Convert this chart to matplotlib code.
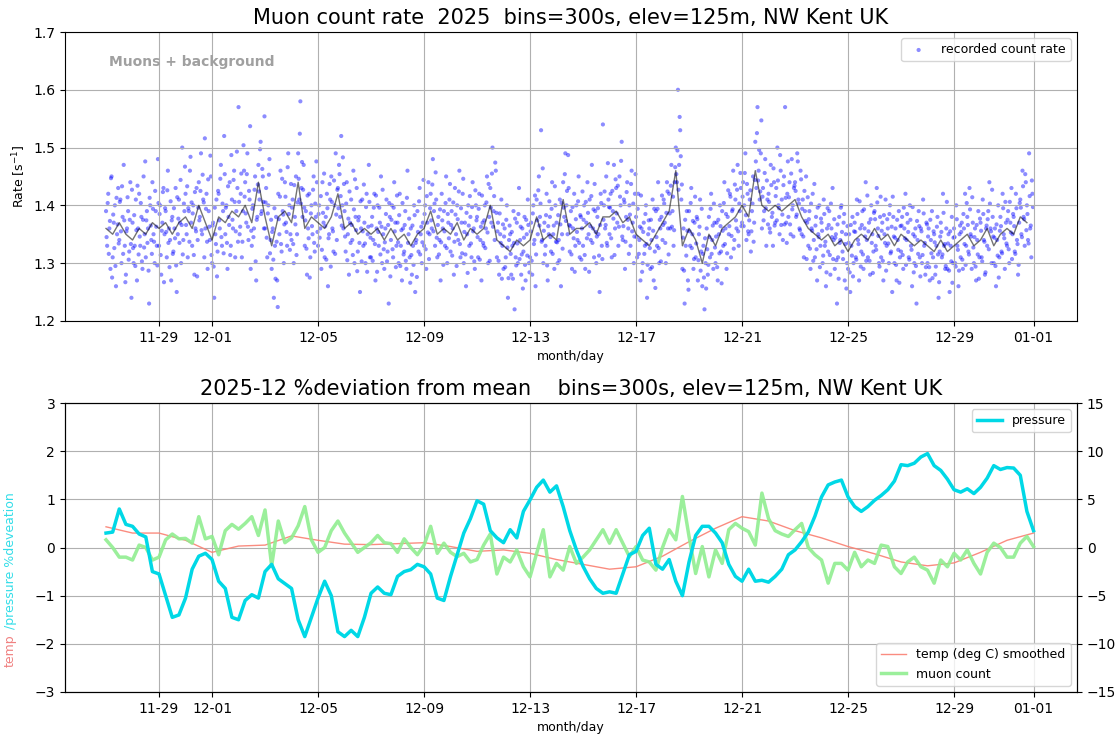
import matplotlib
matplotlib.use('Agg')
import matplotlib.pyplot as plt
import matplotlib.dates as mdates
import pandas as pd

start = pd.Timestamp('2025-11-27 00:00')

# count rate [1/s] on the hour, one row per day from 11-27 to 12-31
rate = [
    1.39, 1.33, 1.42, 1.36, 1.29, 1.45, 1.31, 1.37, 1.40, 1.26, 1.35, 1.43, 1.34, 1.41, 1.30, 1.38, 1.47, 1.33, 1.28, 1.36, 1.39, 1.32, 1.44, 1.24,
    1.37, 1.30, 1.33, 1.41, 1.27, 1.36, 1.42, 1.33, 1.38, 1.29, 1.45, 1.35, 1.31, 1.39, 1.36, 1.23, 1.40, 1.34, 1.44, 1.35, 1.30, 1.39, 1.33, 1.48,
    1.33, 1.40, 1.28, 1.37, 1.43, 1.35, 1.39, 1.31, 1.46, 1.36, 1.34, 1.27, 1.38, 1.32, 1.36, 1.43, 1.25, 1.35, 1.41, 1.37, 1.30, 1.50, 1.34, 1.39,
    1.42, 1.35, 1.31, 1.39, 1.46, 1.37, 1.33, 1.40, 1.28, 1.36, 1.43, 1.34, 1.44, 1.38, 1.49, 1.35, 1.41, 1.31, 1.36, 1.42, 1.29, 1.39, 1.34, 1.45,
    1.30, 1.37, 1.24, 1.35, 1.41, 1.32, 1.42, 1.36, 1.47, 1.33, 1.39, 1.52, 1.35, 1.40, 1.29, 1.38, 1.44, 1.33, 1.41, 1.36, 1.46, 1.31, 1.39, 1.43,
    1.57, 1.35, 1.42, 1.31, 1.39, 1.46, 1.44, 1.37, 1.49, 1.34, 1.41, 1.29, 1.33, 1.40, 1.36, 1.45, 1.27, 1.38, 1.47, 1.41, 1.51, 1.39, 1.45, 1.36,
    1.36, 1.43, 1.31, 1.40, 1.48, 1.34, 1.29, 1.36, 1.24, 1.33, 1.38, 1.27, 1.42, 1.35, 1.46, 1.32, 1.39, 1.30, 1.44, 1.37, 1.33, 1.49, 1.40, 1.35,
    1.34, 1.41, 1.30, 1.38, 1.45, 1.35, 1.49, 1.41, 1.58, 1.43, 1.38, 1.47, 1.33, 1.39, 1.28, 1.36, 1.42, 1.31, 1.40, 1.35, 1.45, 1.32, 1.38, 1.44,
    1.33, 1.40, 1.36, 1.29, 1.44, 1.37, 1.31, 1.38, 1.42, 1.26, 1.35, 1.41, 1.45, 1.36, 1.32, 1.40, 1.49, 1.34, 1.43, 1.47, 1.38, 1.52, 1.40, 1.36,
    1.39, 1.32, 1.44, 1.35, 1.28, 1.37, 1.41, 1.34, 1.46, 1.30, 1.38, 1.43, 1.32, 1.38, 1.25, 1.36, 1.41, 1.33, 1.37, 1.30, 1.42, 1.35, 1.47, 1.31,
    1.31, 1.38, 1.34, 1.42, 1.27, 1.36, 1.40, 1.33, 1.37, 1.45, 1.30, 1.35, 1.29, 1.36, 1.41, 1.32, 1.23, 1.38, 1.34, 1.40, 1.31, 1.44, 1.37, 1.33,
    1.37, 1.30, 1.42, 1.33, 1.27, 1.36, 1.32, 1.39, 1.29, 1.46, 1.35, 1.31, 1.36, 1.28, 1.33, 1.40, 1.25, 1.34, 1.39, 1.32, 1.43, 1.35, 1.30, 1.37,
    1.33, 1.40, 1.29, 1.37, 1.44, 1.35, 1.42, 1.36, 1.48, 1.39, 1.33, 1.41, 1.31, 1.38, 1.34, 1.27, 1.42, 1.36, 1.39, 1.33, 1.45, 1.30, 1.37, 1.41,
    1.32, 1.39, 1.36, 1.28, 1.43, 1.35, 1.40, 1.34, 1.46, 1.31, 1.37, 1.42, 1.30, 1.37, 1.26, 1.35, 1.40, 1.33, 1.38, 1.31, 1.44, 1.36, 1.29, 1.40,
    1.38, 1.31, 1.42, 1.34, 1.27, 1.37, 1.33, 1.40, 1.36, 1.45, 1.30, 1.38, 1.43, 1.37, 1.50, 1.39, 1.34, 1.46, 1.31, 1.37, 1.28, 1.35, 1.41, 1.33,
    1.29, 1.36, 1.31, 1.40, 1.24, 1.34, 1.35, 1.28, 1.33, 1.39, 1.22, 1.31, 1.37, 1.30, 1.43, 1.34, 1.28, 1.36, 1.32, 1.38, 1.27, 1.35, 1.41, 1.30,
    1.31, 1.37, 1.28, 1.40, 1.34, 1.26, 1.41, 1.35, 1.45, 1.38, 1.53, 1.34, 1.30, 1.37, 1.33, 1.42, 1.27, 1.35, 1.38, 1.32, 1.44, 1.35, 1.29, 1.40,
    1.37, 1.30, 1.34, 1.41, 1.26, 1.35, 1.44, 1.38, 1.49, 1.40, 1.35, 1.43, 1.32, 1.39, 1.29, 1.36, 1.42, 1.33, 1.40, 1.34, 1.45, 1.31, 1.38, 1.36,
    1.33, 1.40, 1.29, 1.37, 1.44, 1.35, 1.41, 1.34, 1.47, 1.36, 1.31, 1.39, 1.30, 1.38, 1.35, 1.25, 1.42, 1.33, 1.54, 1.40, 1.36, 1.45, 1.33, 1.41,
    1.35, 1.42, 1.31, 1.39, 1.47, 1.36, 1.43, 1.37, 1.33, 1.45, 1.40, 1.51, 1.34, 1.41, 1.29, 1.38, 1.44, 1.36, 1.40, 1.33, 1.46, 1.37, 1.30, 1.42,
    1.38, 1.31, 1.42, 1.34, 1.27, 1.36, 1.30, 1.37, 1.33, 1.40, 1.24, 1.35, 1.36, 1.29, 1.34, 1.41, 1.27, 1.32, 1.39, 1.33, 1.44, 1.30, 1.36, 1.38,
    1.34, 1.41, 1.37, 1.30, 1.44, 1.36, 1.42, 1.36, 1.47, 1.39, 1.33, 1.44, 1.50, 1.44, 1.60, 1.47, 1.53, 1.41, 1.29, 1.36, 1.23, 1.33, 1.39, 1.27,
    1.39, 1.33, 1.43, 1.35, 1.29, 1.37, 1.31, 1.38, 1.27, 1.35, 1.41, 1.32, 1.26, 1.33, 1.22, 1.30, 1.36, 1.28, 1.38, 1.31, 1.42, 1.34, 1.29, 1.37,
    1.30, 1.37, 1.27, 1.35, 1.40, 1.32, 1.39, 1.33, 1.44, 1.36, 1.29, 1.38, 1.35, 1.42, 1.31, 1.39, 1.46, 1.34, 1.41, 1.36, 1.47, 1.33, 1.39, 1.43,
    1.37, 1.44, 1.40, 1.49, 1.34, 1.42, 1.35, 1.41, 1.32, 1.39, 1.45, 1.37, 1.51, 1.43, 1.57, 1.46, 1.41, 1.49, 1.36, 1.43, 1.39, 1.48, 1.33, 1.41,
    1.42, 1.36, 1.47, 1.38, 1.33, 1.44, 1.37, 1.43, 1.50, 1.40, 1.35, 1.46, 1.41, 1.34, 1.45, 1.57, 1.37, 1.42, 1.38, 1.44, 1.35, 1.48, 1.40, 1.43,
    1.44, 1.38, 1.49, 1.41, 1.36, 1.46, 1.35, 1.41, 1.31, 1.39, 1.45, 1.37, 1.33, 1.39, 1.29, 1.36, 1.42, 1.34, 1.31, 1.38, 1.27, 1.35, 1.40, 1.33,
    1.37, 1.30, 1.41, 1.33, 1.26, 1.36, 1.32, 1.39, 1.28, 1.36, 1.43, 1.34, 1.29, 1.35, 1.23, 1.31, 1.38, 1.34, 1.40, 1.32, 1.37, 1.27, 1.35, 1.30,
    1.29, 1.35, 1.25, 1.33, 1.38, 1.30, 1.37, 1.31, 1.41, 1.34, 1.27, 1.36, 1.32, 1.39, 1.29, 1.36, 1.44, 1.34, 1.31, 1.37, 1.28, 1.40, 1.35, 1.32,
    1.39, 1.33, 1.43, 1.36, 1.30, 1.38, 1.31, 1.37, 1.27, 1.35, 1.41, 1.33, 1.36, 1.30, 1.40, 1.32, 1.25, 1.38, 1.30, 1.36, 1.27, 1.34, 1.39, 1.31,
    1.32, 1.38, 1.29, 1.36, 1.42, 1.34, 1.37, 1.31, 1.40, 1.33, 1.26, 1.35, 1.30, 1.36, 1.23, 1.34, 1.39, 1.31, 1.36, 1.30, 1.41, 1.33, 1.28, 1.37,
    1.30, 1.36, 1.27, 1.34, 1.39, 1.31, 1.35, 1.28, 1.33, 1.38, 1.24, 1.32, 1.37, 1.31, 1.42, 1.33, 1.29, 1.36, 1.29, 1.35, 1.25, 1.33, 1.38, 1.30,
    1.36, 1.30, 1.40, 1.33, 1.26, 1.35, 1.31, 1.37, 1.29, 1.36, 1.42, 1.33, 1.38, 1.32, 1.43, 1.35, 1.29, 1.37, 1.30, 1.36, 1.27, 1.34, 1.39, 1.31,
    1.37, 1.31, 1.41, 1.34, 1.28, 1.36, 1.33, 1.39, 1.44, 1.36, 1.30, 1.38, 1.30, 1.36, 1.26, 1.34, 1.40, 1.31, 1.38, 1.32, 1.42, 1.35, 1.29, 1.37,
    1.33, 1.39, 1.30, 1.37, 1.43, 1.35, 1.38, 1.32, 1.42, 1.34, 1.28, 1.37, 1.41, 1.35, 1.46, 1.38, 1.33, 1.44, 1.40, 1.34, 1.49, 1.36, 1.31, 1.42,
]

# count rate on the half hour
rate_half = [
    1.345, 1.404, 1.316, 1.373, 1.447, 1.275, 1.384, 1.326, 1.295, 1.413, 1.367, 1.334, 1.406, 1.355, 1.433, 1.316, 1.374, 1.267, 1.355, 1.414, 1.306, 1.375, 1.333, 1.427,
    1.326, 1.383, 1.295, 1.357, 1.434, 1.315, 1.346, 1.404, 1.303, 1.375, 1.327, 1.476, 1.374, 1.335, 1.287, 1.413, 1.365, 1.316, 1.394, 1.337, 1.425, 1.363, 1.296, 1.404,
    1.385, 1.314, 1.356, 1.423, 1.267, 1.395, 1.354, 1.426, 1.335, 1.293, 1.407, 1.374, 1.316, 1.395, 1.343, 1.296, 1.414, 1.377, 1.335, 1.444, 1.366, 1.315, 1.403, 1.467,
    1.366, 1.433, 1.395, 1.337, 1.484, 1.405, 1.386, 1.314, 1.423, 1.355, 1.277, 1.396, 1.374, 1.425, 1.357, 1.453, 1.405, 1.516, 1.394, 1.337, 1.445, 1.363, 1.486, 1.314,
    1.365, 1.294, 1.396, 1.333, 1.277, 1.425, 1.374, 1.446, 1.345, 1.403, 1.317, 1.454, 1.396, 1.335, 1.433, 1.366, 1.314, 1.487, 1.375, 1.444, 1.406, 1.355, 1.493, 1.337,
    1.406, 1.363, 1.455, 1.337, 1.504, 1.415, 1.386, 1.454, 1.363, 1.425, 1.537, 1.356, 1.394, 1.345, 1.427, 1.303, 1.375, 1.436, 1.424, 1.497, 1.385, 1.463, 1.406, 1.554,
    1.405, 1.344, 1.386, 1.453, 1.317, 1.375, 1.354, 1.306, 1.395, 1.273, 1.337, 1.224, 1.376, 1.415, 1.333, 1.446, 1.384, 1.367, 1.415, 1.354, 1.466, 1.385, 1.323, 1.437,
    1.396, 1.333, 1.435, 1.367, 1.314, 1.405, 1.446, 1.524, 1.403, 1.475, 1.427, 1.396, 1.374, 1.325, 1.417, 1.343, 1.275, 1.386, 1.364, 1.427, 1.335, 1.403, 1.476, 1.354,
    1.385, 1.344, 1.416, 1.323, 1.387, 1.455, 1.364, 1.306, 1.395, 1.343, 1.437, 1.294, 1.406, 1.355, 1.443, 1.316, 1.384, 1.427, 1.395, 1.454, 1.416, 1.365, 1.483, 1.437,
    1.346, 1.403, 1.305, 1.377, 1.424, 1.335, 1.366, 1.314, 1.393, 1.445, 1.357, 1.286, 1.374, 1.335, 1.407, 1.303, 1.355, 1.436, 1.334, 1.397, 1.285, 1.363, 1.406, 1.344,
    1.365, 1.304, 1.396, 1.333, 1.417, 1.285, 1.354, 1.396, 1.315, 1.363, 1.427, 1.324, 1.336, 1.385, 1.303, 1.366, 1.404, 1.277, 1.375, 1.324, 1.396, 1.355, 1.293, 1.417,
    1.336, 1.383, 1.295, 1.357, 1.404, 1.315, 1.366, 1.304, 1.413, 1.335, 1.377, 1.266, 1.314, 1.365, 1.297, 1.383, 1.335, 1.276, 1.354, 1.407, 1.315, 1.363, 1.336, 1.444,
    1.385, 1.324, 1.416, 1.353, 1.307, 1.395, 1.374, 1.436, 1.355, 1.403, 1.457, 1.344, 1.366, 1.315, 1.393, 1.336, 1.374, 1.297, 1.355, 1.404, 1.326, 1.385, 1.343, 1.437,
    1.366, 1.313, 1.405, 1.337, 1.384, 1.295, 1.376, 1.424, 1.333, 1.395, 1.317, 1.446, 1.354, 1.315, 1.387, 1.283, 1.365, 1.416, 1.334, 1.397, 1.355, 1.303, 1.426, 1.374,
    1.345, 1.394, 1.306, 1.363, 1.417, 1.335, 1.374, 1.326, 1.405, 1.353, 1.437, 1.304, 1.396, 1.455, 1.363, 1.416, 1.474, 1.387, 1.355, 1.304, 1.386, 1.335, 1.273, 1.367,
    1.346, 1.293, 1.375, 1.327, 1.274, 1.365, 1.316, 1.354, 1.273, 1.335, 1.377, 1.296, 1.334, 1.385, 1.307, 1.363, 1.315, 1.256, 1.344, 1.297, 1.375, 1.313, 1.366, 1.284,
    1.355, 1.304, 1.386, 1.333, 1.417, 1.315, 1.374, 1.426, 1.365, 1.403, 1.337, 1.464, 1.356, 1.315, 1.383, 1.296, 1.364, 1.407, 1.345, 1.394, 1.316, 1.365, 1.433, 1.337,
    1.336, 1.383, 1.305, 1.367, 1.404, 1.325, 1.396, 1.454, 1.373, 1.425, 1.487, 1.366, 1.364, 1.315, 1.397, 1.343, 1.285, 1.376, 1.354, 1.407, 1.335, 1.383, 1.306, 1.424,
    1.375, 1.314, 1.406, 1.343, 1.387, 1.285, 1.364, 1.416, 1.335, 1.393, 1.437, 1.354, 1.346, 1.395, 1.313, 1.366, 1.404, 1.307, 1.375, 1.424, 1.366, 1.335, 1.473, 1.397,
    1.396, 1.343, 1.425, 1.377, 1.314, 1.445, 1.386, 1.434, 1.363, 1.415, 1.477, 1.346, 1.364, 1.405, 1.337, 1.423, 1.375, 1.316, 1.384, 1.437, 1.355, 1.403, 1.346, 1.454,
    1.345, 1.394, 1.316, 1.363, 1.417, 1.285, 1.354, 1.316, 1.385, 1.333, 1.297, 1.374, 1.326, 1.375, 1.293, 1.356, 1.394, 1.257, 1.345, 1.394, 1.326, 1.375, 1.303, 1.417,
    1.366, 1.403, 1.335, 1.387, 1.424, 1.315, 1.386, 1.434, 1.363, 1.415, 1.357, 1.466, 1.454, 1.495, 1.427, 1.553, 1.485, 1.436, 1.344, 1.287, 1.375, 1.313, 1.356, 1.254,
    1.355, 1.404, 1.326, 1.373, 1.307, 1.415, 1.334, 1.376, 1.305, 1.363, 1.287, 1.394, 1.316, 1.275, 1.343, 1.256, 1.324, 1.297, 1.345, 1.394, 1.316, 1.365, 1.403, 1.327,
    1.346, 1.293, 1.375, 1.317, 1.364, 1.265, 1.356, 1.404, 1.333, 1.385, 1.317, 1.426, 1.364, 1.415, 1.347, 1.393, 1.325, 1.436, 1.374, 1.427, 1.355, 1.403, 1.456, 1.364,
    1.415, 1.364, 1.456, 1.383, 1.437, 1.355, 1.374, 1.426, 1.355, 1.403, 1.337, 1.444, 1.476, 1.525, 1.443, 1.496, 1.424, 1.547, 1.415, 1.374, 1.456, 1.395, 1.443, 1.367,
    1.406, 1.353, 1.435, 1.387, 1.464, 1.365, 1.416, 1.374, 1.443, 1.395, 1.487, 1.366, 1.384, 1.435, 1.367, 1.413, 1.335, 1.476, 1.414, 1.367, 1.455, 1.393, 1.346, 1.434,
    1.425, 1.384, 1.476, 1.403, 1.357, 1.445, 1.394, 1.346, 1.425, 1.373, 1.307, 1.414, 1.376, 1.325, 1.403, 1.356, 1.304, 1.437, 1.365, 1.324, 1.396, 1.345, 1.293, 1.377,
    1.356, 1.313, 1.385, 1.337, 1.284, 1.395, 1.366, 1.314, 1.403, 1.345, 1.307, 1.376, 1.344, 1.305, 1.367, 1.273, 1.335, 1.396, 1.354, 1.307, 1.385, 1.333, 1.256, 1.364,
    1.335, 1.284, 1.366, 1.313, 1.277, 1.355, 1.354, 1.306, 1.385, 1.333, 1.407, 1.294, 1.366, 1.315, 1.393, 1.346, 1.304, 1.417, 1.355, 1.304, 1.376, 1.335, 1.283, 1.387,
    1.376, 1.323, 1.405, 1.347, 1.294, 1.415, 1.356, 1.304, 1.383, 1.335, 1.287, 1.376, 1.334, 1.385, 1.317, 1.363, 1.415, 1.346, 1.344, 1.297, 1.375, 1.323, 1.266, 1.364,
    1.365, 1.314, 1.396, 1.343, 1.297, 1.385, 1.354, 1.306, 1.375, 1.323, 1.397, 1.284, 1.346, 1.295, 1.373, 1.316, 1.364, 1.277, 1.355, 1.314, 1.386, 1.335, 1.293, 1.367,
    1.346, 1.293, 1.375, 1.317, 1.274, 1.355, 1.336, 1.294, 1.363, 1.315, 1.267, 1.346, 1.354, 1.315, 1.387, 1.333, 1.295, 1.406, 1.334, 1.287, 1.355, 1.303, 1.266, 1.344,
    1.345, 1.294, 1.376, 1.323, 1.287, 1.365, 1.354, 1.306, 1.385, 1.333, 1.297, 1.404, 1.366, 1.315, 1.393, 1.346, 1.414, 1.327, 1.345, 1.294, 1.366, 1.315, 1.273, 1.377,
    1.356, 1.303, 1.385, 1.337, 1.284, 1.365, 1.376, 1.324, 1.403, 1.355, 1.427, 1.346, 1.344, 1.295, 1.367, 1.313, 1.275, 1.356, 1.364, 1.317, 1.395, 1.343, 1.406, 1.334,
    1.375, 1.324, 1.406, 1.353, 1.307, 1.385, 1.364, 1.316, 1.395, 1.333, 1.297, 1.404, 1.396, 1.345, 1.433, 1.376, 1.454, 1.357, 1.385, 1.334, 1.416, 1.365, 1.443, 1.397,
]

# 6-hourly running mean of the rate
rate_mean = [
    1.36, 1.35, 1.37, 1.35, 1.34, 1.36, 1.35, 1.37, 1.36, 1.37, 1.35, 1.37,
    1.38, 1.36, 1.40, 1.37, 1.34, 1.38, 1.37, 1.39, 1.38, 1.40, 1.37, 1.44,
    1.38, 1.33, 1.38, 1.39, 1.37, 1.44, 1.36, 1.38, 1.37, 1.36, 1.38, 1.42,
    1.36, 1.37, 1.35, 1.36, 1.35, 1.36, 1.34, 1.36, 1.34, 1.35, 1.33, 1.35,
    1.36, 1.39, 1.35, 1.36, 1.35, 1.37, 1.34, 1.36, 1.35, 1.36, 1.40, 1.34,
    1.33, 1.32, 1.34, 1.33, 1.34, 1.38, 1.34, 1.35, 1.34, 1.41, 1.35, 1.36,
    1.36, 1.37, 1.35, 1.38, 1.38, 1.39, 1.37, 1.38, 1.35, 1.34, 1.33, 1.35,
    1.37, 1.39, 1.46, 1.33, 1.36, 1.34, 1.30, 1.35, 1.33, 1.36, 1.37, 1.38,
    1.40, 1.38, 1.46, 1.40, 1.39, 1.40, 1.39, 1.40, 1.41, 1.38, 1.36, 1.35,
    1.34, 1.35, 1.33, 1.34, 1.32, 1.34, 1.35, 1.34, 1.36, 1.34, 1.35, 1.33,
    1.35, 1.34, 1.33, 1.34, 1.33, 1.32, 1.34, 1.32, 1.33, 1.34, 1.35, 1.33,
    1.34, 1.36, 1.33, 1.35, 1.36, 1.35, 1.38, 1.37,
]

# 6-hourly % deviation from mean
pressure = [
    0.30, 0.32, 0.80, 0.48, 0.44, 0.28, 0.22, -0.50, -0.55, -1.00, -1.45, -1.40,
    -1.05, -0.45, -0.18, -0.12, -0.25, -0.70, -0.85, -1.45, -1.50, -1.10, -0.98, -1.05,
    -0.50, -0.35, -0.65, -0.75, -0.85, -1.50, -1.85, -1.45, -1.05, -0.70, -1.00, -1.75,
    -1.85, -1.72, -1.85, -1.45, -0.95, -0.82, -0.95, -0.98, -0.60, -0.50, -0.46, -0.35,
    -0.40, -0.55, -1.05, -1.10, -0.60, -0.15, 0.30, 0.60, 0.97, 0.90, 0.35, 0.20,
    0.10, 0.37, 0.20, 0.75, 0.99, 1.25, 1.40, 1.15, 1.28, 0.85, 0.35, -0.05,
    -0.39, -0.65, -0.85, -0.95, -0.92, -0.95, -0.55, -0.15, -0.08, 0.25, 0.40, -0.35,
    -0.45, -0.25, -0.70, -1.00, -0.30, 0.25, 0.44, 0.44, 0.30, 0.10, -0.35, -0.60,
    -0.70, -0.45, -0.70, -0.68, -0.72, -0.60, -0.45, -0.15, -0.05, 0.12, 0.32, 0.65,
    1.05, 1.30, 1.36, 1.40, 1.05, 0.85, 0.75, 0.85, 0.98, 1.08, 1.20, 1.38,
    1.72, 1.70, 1.75, 1.88, 1.95, 1.70, 1.60, 1.42, 1.20, 1.15, 1.22, 1.12,
    1.25, 1.44, 1.70, 1.62, 1.66, 1.65, 1.50, 0.75, 0.35,
]

muon = [
    0.16, 0.00, -0.20, -0.20, -0.26, 0.05, 0.00, -0.26, -0.20, 0.16, 0.28, 0.18,
    0.19, 0.09, 0.64, 0.18, 0.23, -0.15, 0.35, 0.48, 0.38, 0.50, 0.64, 0.25,
    0.78, -0.38, 0.55, 0.10, 0.20, 0.45, 0.85, 0.16, -0.10, 0.00, 0.35, 0.55,
    0.30, 0.10, -0.10, 0.00, 0.10, 0.25, 0.10, 0.08, -0.10, 0.18, 0.00, -0.15,
    0.05, 0.44, -0.12, 0.09, -0.10, -0.19, -0.12, -0.30, -0.25, 0.05, 0.28, -0.55,
    -0.20, -0.30, -0.05, -0.40, -0.61, -0.12, 0.37, -0.61, -0.33, -0.47, 0.02, -0.33,
    -0.20, -0.05, 0.16, 0.37, 0.09, 0.37, 0.09, -0.19, 0.02, -0.26, -0.30, -0.47,
    0.00, 0.37, 0.16, 1.06, 0.23, -0.54, 0.02, -0.61, -0.05, -0.33, 0.37, 0.50,
    0.40, 0.33, 0.05, 1.13, 0.60, 0.35, 0.28, 0.23, 0.37, 0.50, 0.00, -0.15,
    -0.26, -0.74, -0.33, -0.33, -0.47, -0.10, -0.40, -0.26, -0.33, 0.05, 0.02, -0.40,
    -0.54, -0.30, -0.20, -0.40, -0.47, -0.74, -0.26, -0.40, -0.12, -0.26, -0.05, -0.33,
    -0.55, -0.10, 0.09, 0.00, -0.20, -0.20, 0.09, 0.23, 0.02,
]

# daily smoothed temperature
temp = [
    0.43, 0.30, 0.30, 0.15, -0.10, 0.03, 0.05, 0.24, 0.15, 0.07, 0.06, 0.08,
    0.10, 0.02, -0.08, -0.05, -0.12, -0.25, -0.35, -0.45, -0.40, -0.18, 0.12, 0.40,
    0.64, 0.55, 0.35, 0.20, 0.02, -0.13, -0.30, -0.38, -0.32, -0.10, 0.15, 0.30,
]

t_rate = pd.date_range(start, periods=len(rate), freq='h')
t_half = pd.date_range(start + pd.Timedelta(minutes=30), periods=len(rate_half), freq='h')
t_mean = pd.date_range(start, periods=len(rate_mean), freq='6h')
t_dev = pd.date_range(start, periods=len(pressure), freq='6h')
t_temp = pd.date_range(start, periods=len(temp), freq='D')

x0 = start - pd.Timedelta(days=1.55)
x1 = pd.Timestamp('2026-01-01') + pd.Timedelta(days=1.64)

fig = plt.figure(figsize=(11.2, 7.36), dpi=100)
ax1 = fig.add_axes([0.058, 0.564, 0.9036, 0.3925])
ax2 = fig.add_axes([0.058, 0.0598, 0.9036, 0.3926])

loc = mdates.DayLocator(bymonthday=[1, 5, 9, 13, 17, 21, 25, 29])
fmt = mdates.DateFormatter('%m-%d')

# top: count rate
ax1.scatter(t_rate, rate, s=9, c='blue', alpha=0.45, edgecolors='none', label='recorded count rate')
ax1.scatter(t_half, rate_half, s=9, c='blue', alpha=0.45, edgecolors='none')
ax1.plot(t_mean, rate_mean, color='black', alpha=0.55, lw=1)
ax1.set_ylim(1.2, 1.7)
ax1.set_xlim(x0, x1)
ax1.xaxis.set_major_locator(loc)
ax1.xaxis.set_major_formatter(fmt)
ax1.grid(True)
ax1.set_title('Muon count rate  2025  bins=300s, elev=125m, NW Kent UK', fontsize=15)
ax1.set_ylabel('Rate [s$^{-1}$]', fontsize=9)
ax1.set_xlabel('month/day', fontsize=9)
ax1.text(0.044, 0.895, 'Muons + background', transform=ax1.transAxes,
         fontsize=10, fontweight='bold', color='#a0a0a0', va='center')
ax1.legend(loc='upper right', fontsize=9)

# bottom: % deviation
ax3 = ax2.twinx()
l_temp, = ax2.plot(t_temp, temp, color='salmon', lw=1, alpha=0.9, label='temp (deg C) smoothed')
l_muon, = ax2.plot(t_dev, muon, color='lightgreen', lw=2.5, alpha=0.9, label='muon count')
l_pres, = ax2.plot(t_dev, pressure, color='#00d8e6', lw=2.5, label='pressure', zorder=3)
ax2.set_ylim(-3, 3)
ax3.set_ylim(-15, 15)
ax2.set_xlim(x0, x1)
ax2.xaxis.set_major_locator(loc)
ax2.xaxis.set_major_formatter(fmt)
ax2.grid(True)
ax2.set_title('2025-12 %deviation from mean    bins=300s, elev=125m, NW Kent UK', fontsize=15)
ax2.set_xlabel('month/day', fontsize=9)
ax2.text(-0.054, 0.086, 'temp', transform=ax2.transAxes, rotation=90,
         fontsize=9, color='lightcoral', ha='center', va='bottom')
ax2.text(-0.054, 0.218, '/pressure %deveation', transform=ax2.transAxes, rotation=90,
         fontsize=9, color='#33dde8', ha='center', va='bottom')
ax3.legend(handles=[l_pres], loc='upper right', fontsize=9)
ax2.legend(handles=[l_temp, l_muon], loc='lower right', fontsize=9)

fig.savefig('out.png', dpi=100)
